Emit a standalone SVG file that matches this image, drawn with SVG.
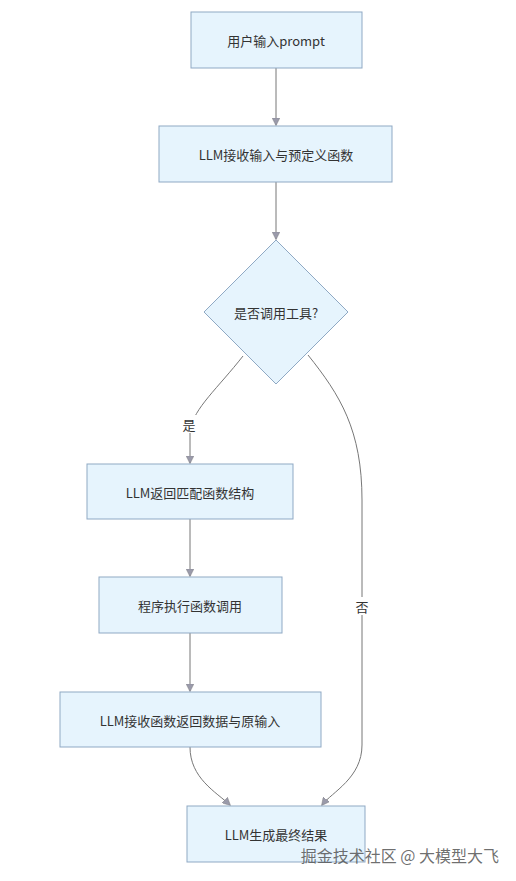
<svg xmlns="http://www.w3.org/2000/svg" width="516" height="881" viewBox="0 0 516 881">
<style>
.node rect,.node polygon{fill:#e6f4fd;stroke:#8fa9c4;stroke-width:1}
.lbl{font-family:"Noto Sans CJK SC","Liberation Sans",sans-serif;font-size:13px;fill:#333;text-anchor:middle;dominant-baseline:central}
.edge{fill:none;stroke:#777;stroke-width:1}
.elbl{font-family:"Noto Sans CJK SC",sans-serif;font-size:13px;fill:#333;text-anchor:middle;dominant-baseline:central}
</style>
<defs>
<marker id="arr" viewBox="0 0 10 10" refX="9" refY="5" markerWidth="8" markerHeight="8" orient="auto-start-reverse" markerUnits="userSpaceOnUse">
<path d="M0,0 L10,5 L0,10 z" fill="#9a9aaa" stroke="#777" stroke-width="0.5"/>
</marker>
</defs>
<rect width="516" height="881" fill="#ffffff"/>
<g id="connectors">
<path class="edge" d="M276,68 L276,125" marker-end="url(#arr)"/>
<path class="edge" d="M276,182 L276,239" marker-end="url(#arr)"/>
<path class="edge" d="M243,356 C218,388 194,408 190,430 L190,463" marker-end="url(#arr)"/>
<path class="edge" d="M308,355 C340,395 362,430 362,500 L362,745 C362,778 332,792 322,805" marker-end="url(#arr)"/>
<path class="edge" d="M190,519 L190,576" marker-end="url(#arr)"/>
<path class="edge" d="M190,633 L190,691" marker-end="url(#arr)"/>
<path class="edge" d="M190,747 C190,778 216,792 230,805" marker-end="url(#arr)"/>
<rect x="181" y="415" width="17" height="18" fill="#fff"/>
<text class="elbl" x="189" y="424">是</text>
<rect x="353" y="597" width="18" height="18" fill="#fff"/>
<text class="elbl" x="362" y="606">否</text>
</g>
<g id="n1" class="node"><rect x="191" y="12" width="171" height="56"/><text class="lbl" x="276" y="40">用户输入prompt</text></g>
<g id="n2" class="node"><rect x="159" y="126" width="233" height="56"/><text class="lbl" x="276" y="154">LLM接收输入与预定义函数</text></g>
<g id="n3" class="node"><polygon points="276,240 348,312 276,384 204,312"/><text class="lbl" x="276" y="312">是否调用工具?</text></g>
<g id="n4" class="node"><rect x="87" y="464" width="206" height="55"/><text class="lbl" x="190" y="492">LLM返回匹配函数结构</text></g>
<g id="n5" class="node"><rect x="99" y="577" width="183" height="56"/><text class="lbl" x="190" y="605">程序执行函数调用</text></g>
<g id="n6" class="node"><rect x="60" y="692" width="261" height="55"/><text class="lbl" x="190" y="720">LLM接收函数返回数据与原输入</text></g>
<g id="n7" class="node"><rect x="187" y="806" width="178" height="56"/><text class="lbl" x="276" y="834">LLM生成最终结果</text></g>
<text x="499" y="855" font-family="Noto Sans CJK SC,sans-serif" font-size="16" fill="#555" fill-opacity="0.85" text-anchor="end" dominant-baseline="central">掘金技术社区 @ 大模型大飞</text>
</svg>
